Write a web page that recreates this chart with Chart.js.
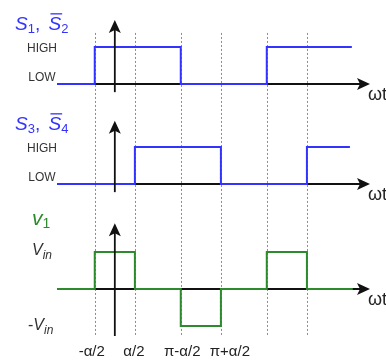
<!DOCTYPE html>
<html>
<head>
<meta charset="utf-8">
<script src="https://cdn.jsdelivr.net/npm/chart.js@4.4.0/dist/chart.umd.min.js"></script>
<style>
  html, body { margin: 0; padding: 0; background: #fff; }
  #wrap { width: 386px; height: 363px; }
</style>
</head>
<body>
<div id="wrap"><canvas id="chart" width="386" height="363"></canvas></div>
<script>
// --- DATA ---
// x axis in electrical degrees (pi = 180), alpha/2 is about 42
const edges = [-42, 42, 138, 222, 318, 402];
const tickLabels = ['-α/2', 'α/2', 'π-α/2', 'π+α/2'];

// S1, S2bar : LOW = 0, HIGH = 1 (stepped, value changes at each x)
const s12X = [-121, -42, 138, 318, 496];
const s12Y = [0, 1, 0, 1, 1];
// S3, S4bar
const s34X = [-121, 42, 222, 402, 492];
const s34Y = [0, 1, 0, 1, 1];
// v1 : -Vin = -1, 0, Vin = 1
const v1X = [-121, -42, 42, 138, 222, 318, 402, 498];
const v1Y = [0, 1, 0, -1, 0, 1, 0, 0];

// --- LAYOUT / STYLE ---
const W = 386, H = 363;
const FONT = '"Liberation Sans", Arial, Helvetica, sans-serif';
const BLUE = '#3333ff';
const GREEN = '#2d8a2d';

// base = pixel of value 0, unit = pixels per unit, axis = vertical arrow extent in units
const panels = [
  { id: 'y1', base: 84,  unit: 37, axisTop: 1.73, axisBottom: -0.22, titleDy: -17 },
  { id: 'y2', base: 184, unit: 37, axisTop: 1.71, axisBottom: -0.22, titleDy: -17 },
  { id: 'y3', base: 289, unit: 37, axisTop: 1.78, axisBottom: -1.27, titleDy: -27 }
];
const guideTop = 1.38;     // in y1 units
const guideBottom = -1.27; // in y3 units

function yRange(p) {
  const max = p.base / p.unit;
  return { min: max - H / p.unit, max: max };
}

function pts(xs, ys) {
  return xs.map((x, i) => ({ x: x, y: ys[i] }));
}

function rich(ctx, x, y, parts, color) {
  ctx.fillStyle = color;
  ctx.strokeStyle = color;
  ctx.textAlign = 'left';
  ctx.textBaseline = 'alphabetic';
  for (const p of parts) {
    ctx.font = (p.it ? 'italic ' : '') + p.size + 'px ' + FONT;
    const w = ctx.measureText(p.t).width;
    const yy = y + (p.dy || 0);
    ctx.fillText(p.t, x, yy);
    if (p.bar) {
      ctx.lineWidth = 1.3;
      ctx.beginPath();
      ctx.moveTo(x + 2, yy - p.size * 0.85);
      ctx.lineTo(x + w + 1, yy - p.size * 0.85);
      ctx.stroke();
    }
    x += w + (p.gap || 0);
  }
}

function arrowRight(ctx, x, y) {
  ctx.beginPath();
  ctx.moveTo(x, y);
  ctx.lineTo(x - 13, y - 6);
  ctx.lineTo(x - 10, y);
  ctx.lineTo(x - 13, y + 6);
  ctx.closePath();
  ctx.fill();
}

function arrowUp(ctx, x, y) {
  ctx.beginPath();
  ctx.moveTo(x, y);
  ctx.lineTo(x + 6, y + 13);
  ctx.lineTo(x, y + 10);
  ctx.lineTo(x - 6, y + 13);
  ctx.closePath();
  ctx.fill();
}

const decor = {
  id: 'decor',
  beforeDatasetsDraw(chart) {
    const { ctx, chartArea, scales } = chart;
    const x = scales.x;
    ctx.save();
    // dotted guides
    ctx.strokeStyle = '#8c8c8c';
    ctx.lineWidth = 1;
    ctx.setLineDash([2, 2]);
    const top = scales.y1.getPixelForValue(guideTop);
    const bot = scales.y3.getPixelForValue(guideBottom);
    edges.forEach(v => {
      const px = Math.round(x.getPixelForValue(v)) + 0.5;
      ctx.beginPath();
      ctx.moveTo(px, top);
      ctx.lineTo(px, bot);
      ctx.stroke();
    });
    ctx.setLineDash([]);
    // horizontal axes
    ctx.strokeStyle = '#111';
    ctx.fillStyle = '#111';
    ctx.lineWidth = 1.8;
    panels.forEach(p => {
      const y = scales[p.id].getPixelForValue(0);
      ctx.beginPath();
      ctx.moveTo(chartArea.left, y);
      ctx.lineTo(chartArea.right - 8, y);
      ctx.stroke();
      arrowRight(ctx, chartArea.right, y);
    });
    ctx.restore();
  },
  afterDatasetsDraw(chart) {
    const { ctx, scales } = chart;
    const x = scales.x;
    const x0 = x.getPixelForValue(0);
    ctx.save();
    // vertical axes
    ctx.strokeStyle = '#111';
    ctx.fillStyle = '#111';
    ctx.lineWidth = 1.8;
    panels.forEach(p => {
      const s = scales[p.id];
      const t = s.getPixelForValue(p.axisTop);
      const b = s.getPixelForValue(p.axisBottom);
      ctx.beginPath();
      ctx.moveTo(x0, b);
      ctx.lineTo(x0, t + 8);
      ctx.stroke();
      arrowUp(ctx, x0, t);
    });

    // titles
    const y1 = scales.y1, y2 = scales.y2, y3 = scales.y3;
    rich(ctx, 15, y1.getPixelForValue(1) + panels[0].titleDy, [
      { t: 'S', it: true, size: 19 }, { t: '1', size: 13, dy: 3 },
      { t: ', ', size: 19, gap: 3 },
      { t: 'S', it: true, size: 19, bar: true }, { t: '2', size: 13, dy: 3 }
    ], BLUE);
    rich(ctx, 15, y2.getPixelForValue(1) + panels[1].titleDy, [
      { t: 'S', it: true, size: 19 }, { t: '3', size: 13, dy: 3 },
      { t: ', ', size: 19, gap: 3 },
      { t: 'S', it: true, size: 19, bar: true }, { t: '4', size: 13, dy: 3 }
    ], BLUE);
    rich(ctx, 32, y3.getPixelForValue(1) + panels[2].titleDy, [
      { t: 'v', it: true, size: 21 }, { t: '1', size: 14, dy: 3 }
    ], GREEN);

    // level labels
    ctx.fillStyle = '#333';
    ctx.font = '12px ' + FONT;
    ctx.textAlign = 'center';
    ctx.textBaseline = 'alphabetic';
    [y1, y2].forEach(s => {
      ctx.fillText('HIGH', 42, s.getPixelForValue(1) + 5);
      ctx.fillText('LOW', 42, s.getPixelForValue(0) - 3.5);
    });
    rich(ctx, 32, y3.getPixelForValue(1) + 3, [
      { t: 'V', it: true, size: 16 }, { t: 'in', it: true, size: 12, dy: 4 }
    ], '#333');
    rich(ctx, 28, y3.getPixelForValue(-1) + 4, [
      { t: '-', size: 16 }, { t: 'V', it: true, size: 16 }, { t: 'in', it: true, size: 12, dy: 4 }
    ], '#333');

    // omega t
    ctx.fillStyle = '#222';
    ctx.font = '18px ' + FONT;
    ctx.textAlign = 'left';
    panels.forEach(p => {
      ctx.fillText('ωt', 368, scales[p.id].getPixelForValue(0) + 16);
    });

    // x tick labels
    ctx.font = '15px ' + FONT;
    ctx.textAlign = 'center';
    const shift = [-3, -1, 1.5, 9];
    tickLabels.forEach((lab, i) => {
      ctx.fillText(lab, x.getPixelForValue(edges[i]) + shift[i], 356);
    });
    ctx.restore();
  }
};

const yScales = {};
panels.forEach(p => {
  const r = yRange(p);
  yScales[p.id] = { type: 'linear', display: false, bounds: 'data', min: r.min, max: r.max };
});

new Chart(document.getElementById('chart'), {
  type: 'line',
  data: {
    datasets: [
      { label: 'S1, S2', data: pts(s12X, s12Y), yAxisID: 'y1', borderColor: BLUE },
      { label: 'S3, S4', data: pts(s34X, s34Y), yAxisID: 'y2', borderColor: BLUE },
      { label: 'v1', data: pts(v1X, v1Y), yAxisID: 'y3', borderColor: GREEN }
    ].map(d => Object.assign(d, {
      stepped: true,
      borderWidth: 2,
      pointRadius: 0,
      fill: false,
      clip: 4
    }))
  },
  options: {
    responsive: false,
    animation: false,
    layout: { padding: { left: 57, right: 16, top: 0, bottom: 0 } },
    plugins: { legend: { display: false }, tooltip: { enabled: false } },
    scales: Object.assign({
      x: { type: 'linear', display: false, min: -121, max: 534 }
    }, yScales)
  },
  plugins: [decor]
});
</script>
</body>
</html>
